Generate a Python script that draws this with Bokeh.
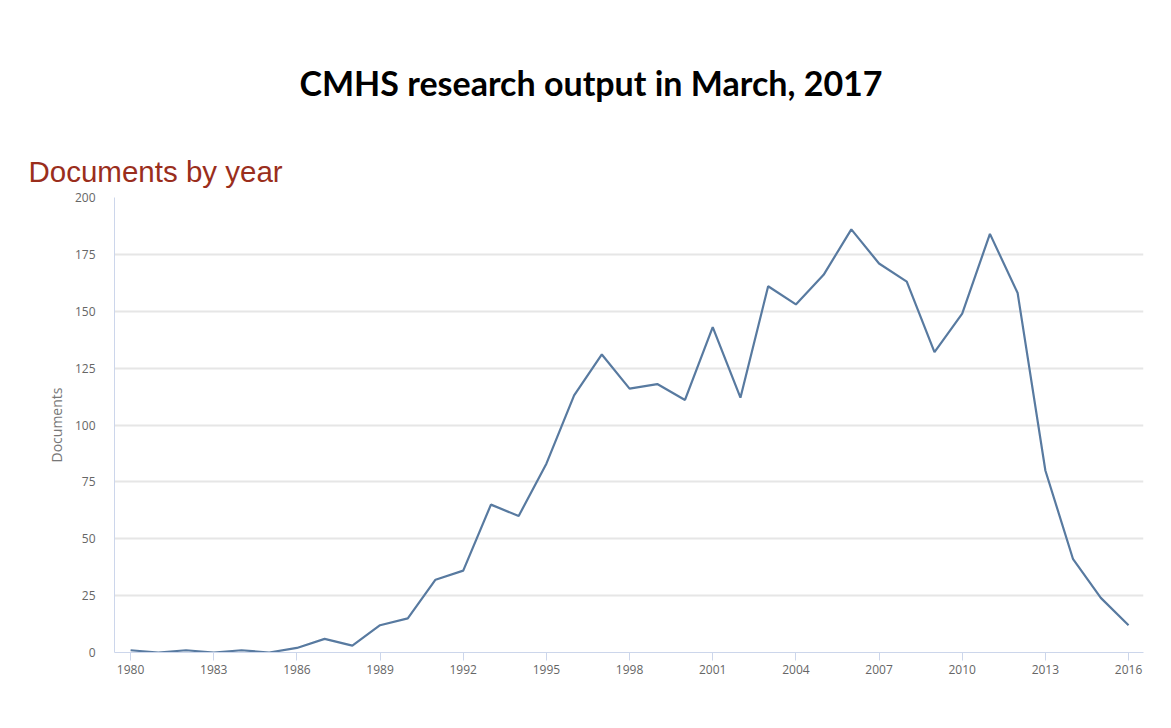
from bokeh.plotting import figure
from bokeh.models import Range1d, FixedTicker, Title
from bokeh.embed import file_html
from bokeh.resources import INLINE

years = list(range(1980, 2017))
documents = [1, 0, 1, 0, 1, 0, 2, 6, 3, 12, 15, 32, 36, 65, 60, 83, 113, 131,
             116, 118, 111, 143, 112, 161, 153, 166, 186, 171, 163, 132, 149,
             184, 158, 80, 41, 24, 12]
x_ticks = list(range(1980, 2017, 3))
y_ticks = [0, 25, 50, 75, 100, 125, 150, 175, 200]

p = figure(width=1155, height=712, output_backend="svg", toolbar_location=None,
           x_range=Range1d(1979.42, 2016.54), y_range=Range1d(0, 200),
           min_border_left=114, min_border_right=12, min_border_top=197,
           min_border_bottom=60)
p.outline_line_color = None

p.line(years, documents, line_color="#587aa0", line_width=2.2)

# titles
sub = Title(text="Documents by year", align="left", text_font="Liberation Sans",
            text_font_size="29.5px", text_font_style="normal", text_color="#9a2e1c",
            offset=-86, standoff=20)
p.add_layout(sub, "above")
main = Title(text="CMHS research output in March, 2017", align="left",
             text_font="Lato", text_font_size="34px", text_font_style="bold",
             text_color="#000000", offset=185, standoff=80)
p.add_layout(main, "above")

# x axis
p.xaxis.ticker = FixedTicker(ticks=x_ticks)
p.xaxis.axis_line_color = "#ccd6eb"
p.xaxis.major_tick_line_color = "#ccd6eb"
p.xaxis.major_tick_in = 0
p.xaxis.major_tick_out = 8
p.xaxis.minor_tick_line_color = None
p.xaxis.major_label_text_font = "Open Sans"
p.xaxis.major_label_text_font_size = "12px"
p.xaxis.major_label_text_color = "#666666"
p.xaxis.major_label_standoff = 4

# y axis
p.yaxis.ticker = FixedTicker(ticks=y_ticks)
p.yaxis.axis_line_color = "#ccd6eb"
p.yaxis.major_tick_line_color = None
p.yaxis.minor_tick_line_color = None
p.yaxis.major_label_text_font = "Open Sans"
p.yaxis.major_label_text_font_size = "12px"
p.yaxis.major_label_text_color = "#666666"
p.yaxis.major_label_standoff = 13
p.yaxis.axis_label = "Documents"
p.yaxis.axis_label_text_font = "Open Sans"
p.yaxis.axis_label_text_font_size = "14px"
p.yaxis.axis_label_text_font_style = "normal"
p.yaxis.axis_label_text_color = "#777777"
p.yaxis.axis_label_standoff = 6

p.xgrid.grid_line_color = None
p.ygrid.grid_line_color = "#e6e6e6"
p.ygrid.grid_line_width = 2
p.ygrid.ticker = FixedTicker(ticks=y_ticks)

open("out.html", "w").write(file_html(p, INLINE))
